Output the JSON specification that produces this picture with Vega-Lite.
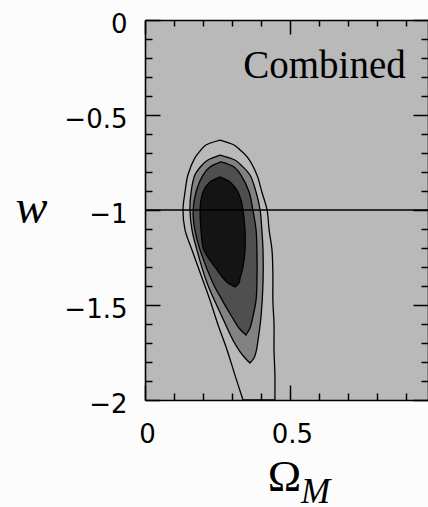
{
  "$schema": "https://vega.github.io/schema/vega-lite/v6.json",
  "width": 283,
  "height": 380,
  "autosize": "none",
  "padding": {"left": 145, "top": 20, "right": 0, "bottom": 107},
  "background": "#fcfcfc",
  "view": {"fill": "#b9b9b9", "stroke": null},
  "config": {
    "axis": {
      "domainColor": "black", "domainWidth": 1.6,
      "tickColor": "black", "tickWidth": 1.5,
      "labelFont": "DejaVu Sans", "labelFontSize": 26, "labelColor": "black",
      "grid": false, "labelFlush": false, "labelOverlap": false,
      "titleColor": "black", "titleFontWeight": "normal"
    }
  },
  "datasets": {
    "contours": [
      {"band": 1, "w": -0.632, "lo": 0.259, "hi": 0.259},
      {"band": 1, "w": -0.658, "lo": 0.210, "hi": 0.307},
      {"band": 1, "w": -0.684, "lo": 0.193, "hi": 0.328},
      {"band": 1, "w": -0.726, "lo": 0.172, "hi": 0.355},
      {"band": 1, "w": -0.816, "lo": 0.148, "hi": 0.386},
      {"band": 1, "w": -0.905, "lo": 0.138, "hi": 0.403},
      {"band": 1, "w": -1.0, "lo": 0.131, "hi": 0.421},
      {"band": 1, "w": -1.105, "lo": 0.138, "hi": 0.428},
      {"band": 1, "w": -1.211, "lo": 0.162, "hi": 0.438},
      {"band": 1, "w": -1.342, "lo": 0.193, "hi": 0.441},
      {"band": 1, "w": -1.474, "lo": 0.224, "hi": 0.441},
      {"band": 1, "w": -1.605, "lo": 0.252, "hi": 0.445},
      {"band": 1, "w": -1.737, "lo": 0.283, "hi": 0.445},
      {"band": 1, "w": -1.868, "lo": 0.310, "hi": 0.448},
      {"band": 1, "w": -2.0, "lo": 0.338, "hi": 0.448},
      {"band": 2, "w": -0.711, "lo": 0.259, "hi": 0.259},
      {"band": 2, "w": -0.737, "lo": 0.217, "hi": 0.310},
      {"band": 2, "w": -0.763, "lo": 0.197, "hi": 0.331},
      {"band": 2, "w": -0.816, "lo": 0.172, "hi": 0.362},
      {"band": 2, "w": -0.905, "lo": 0.159, "hi": 0.383},
      {"band": 2, "w": -1.0, "lo": 0.155, "hi": 0.397},
      {"band": 2, "w": -1.105, "lo": 0.162, "hi": 0.403},
      {"band": 2, "w": -1.211, "lo": 0.179, "hi": 0.407},
      {"band": 2, "w": -1.384, "lo": 0.214, "hi": 0.407},
      {"band": 2, "w": -1.563, "lo": 0.266, "hi": 0.400},
      {"band": 2, "w": -1.684, "lo": 0.303, "hi": 0.390},
      {"band": 2, "w": -1.747, "lo": 0.328, "hi": 0.383},
      {"band": 2, "w": -1.779, "lo": 0.345, "hi": 0.376},
      {"band": 2, "w": -1.805, "lo": 0.362, "hi": 0.362},
      {"band": 3, "w": -0.747, "lo": 0.262, "hi": 0.262},
      {"band": 3, "w": -0.774, "lo": 0.224, "hi": 0.307},
      {"band": 3, "w": -0.816, "lo": 0.200, "hi": 0.331},
      {"band": 3, "w": -0.905, "lo": 0.176, "hi": 0.359},
      {"band": 3, "w": -1.0, "lo": 0.166, "hi": 0.372},
      {"band": 3, "w": -1.105, "lo": 0.172, "hi": 0.383},
      {"band": 3, "w": -1.211, "lo": 0.190, "hi": 0.386},
      {"band": 3, "w": -1.384, "lo": 0.234, "hi": 0.386},
      {"band": 3, "w": -1.474, "lo": 0.266, "hi": 0.383},
      {"band": 3, "w": -1.563, "lo": 0.300, "hi": 0.372},
      {"band": 3, "w": -1.621, "lo": 0.324, "hi": 0.362},
      {"band": 3, "w": -1.658, "lo": 0.348, "hi": 0.348},
      {"band": 4, "w": -0.826, "lo": 0.259, "hi": 0.259},
      {"band": 4, "w": -0.853, "lo": 0.224, "hi": 0.293},
      {"band": 4, "w": -0.895, "lo": 0.203, "hi": 0.317},
      {"band": 4, "w": -0.947, "lo": 0.193, "hi": 0.331},
      {"band": 4, "w": -1.0, "lo": 0.190, "hi": 0.338},
      {"band": 4, "w": -1.105, "lo": 0.193, "hi": 0.345},
      {"band": 4, "w": -1.211, "lo": 0.203, "hi": 0.345},
      {"band": 4, "w": -1.300, "lo": 0.241, "hi": 0.338},
      {"band": 4, "w": -1.358, "lo": 0.269, "hi": 0.328},
      {"band": 4, "w": -1.384, "lo": 0.286, "hi": 0.324},
      {"band": 4, "w": -1.405, "lo": 0.310, "hi": 0.310}
    ],
    "ref": [{"w": -1}],
    "label": [{"om": 0.619, "w": -0.305, "text": "Combined"}]
  },
  "layer": [
    {
      "data": {"name": "contours"},
      "transform": [{"filter": "datum.band == 2"}],
      "mark": {"type": "area", "orient": "horizontal", "interpolate": "catmull-rom", "fill": "#828282", "stroke": "black", "strokeWidth": 1.3},
      "encoding": {
        "y": {"field": "w", "type": "quantitative", "scale": {"domain": [-2, 0], "nice": false, "zero": false},
          "axis": {
            "orient": "left", "values": [-2, -1.5, -1, -0.5, 0], "format": "~g",
            "tickSize": -15,
            "labelPadding": 33, "labelOffset": 4, "labelAlign": "right", "labelBaseline": "middle",
            "encode": {"labels": {"update": {"dx": {"signal": "datum.value == 0 || datum.value == -1 ? -9 : 0"}}}},
            "title": "w", "titleFont": "Liberation Serif", "titleFontStyle": "italic", "titleFontSize": 48,
            "titleAngle": 0, "titleX": -114, "titleY": 202, "titleAlign": "center", "titleBaseline": "alphabetic"
          }
        },
        "x": {"field": "lo", "type": "quantitative", "scale": {"domain": [0, 0.976], "nice": false, "zero": false},
          "axis": {
            "orient": "bottom", "values": [0, 0.5], "format": "~g",
            "tickSize": -15,
            "labelPadding": 36, "labelOffset": 2, "labelBaseline": "top", "labelAlign": "center",
            "title": "Ω", "titleFont": "Liberation Serif", "titleFontSize": 45,
            "titleX": 139, "titleY": 90, "titleAlign": "center", "titleBaseline": "alphabetic"
          }
        },
        "x2": {"field": "hi"}
      }
    },
    {
      "data": {"name": "contours"},
      "transform": [{"filter": "datum.band == 3"}],
      "mark": {"type": "area", "orient": "horizontal", "interpolate": "catmull-rom", "fill": "#4f4f4f", "stroke": "black", "strokeWidth": 1.3},
      "encoding": {
        "y": {"field": "w", "type": "quantitative", "scale": {"domain": [-2, 0], "nice": false, "zero": false},
          "axis": {"orient": "left", "values": [-1.9, -1.8, -1.7, -1.6, -1.4, -1.3, -1.2, -1.1, -0.9, -0.8, -0.7, -0.6, -0.4, -0.3, -0.2, -0.1],
            "tickSize": -7, "labels": false, "domain": false, "title": null}
        },
        "x": {"field": "lo", "type": "quantitative", "scale": {"domain": [0, 0.976], "nice": false, "zero": false},
          "axis": {"orient": "bottom", "values": [0.1, 0.2, 0.3, 0.4, 0.6, 0.7, 0.8, 0.9],
            "tickSize": -7, "labels": false, "domain": false, "title": null}
        },
        "x2": {"field": "hi"}
      }
    },
    {
      "data": {"name": "contours"},
      "transform": [{"filter": "datum.band == 4"}],
      "mark": {"type": "area", "orient": "horizontal", "interpolate": "catmull-rom", "fill": "#141414", "stroke": "black", "strokeWidth": 1.3},
      "encoding": {
        "y": {"field": "w", "type": "quantitative", "scale": {"domain": [-2, 0], "nice": false, "zero": false},
          "axis": {"orient": "right", "values": [-2, -1.5, -1, -0.5, 0], "tickSize": -15, "labels": false, "title": null}
        },
        "x": {"field": "lo", "type": "quantitative", "scale": {"domain": [0, 0.976], "nice": false, "zero": false},
          "axis": {"orient": "top", "values": [0, 0.5], "tickSize": -14, "labels": false,
            "title": "M", "titleFont": "Liberation Serif", "titleFontStyle": "italic", "titleFontSize": 35,
            "titleX": 170, "titleY": 482, "titleAlign": "center", "titleBaseline": "alphabetic"}
        },
        "x2": {"field": "hi"}
      }
    },
    {
      "data": {"name": "contours"},
      "transform": [{"filter": "datum.band == 1"}],
      "mark": {"type": "area", "orient": "horizontal", "interpolate": "catmull-rom", "fillOpacity": 0, "stroke": "black", "strokeWidth": 1.3},
      "encoding": {
        "y": {"field": "w", "type": "quantitative", "scale": {"domain": [-2, 0], "nice": false, "zero": false},
          "axis": {"orient": "right", "values": [-1.9, -1.8, -1.7, -1.6, -1.4, -1.3, -1.2, -1.1, -0.9, -0.8, -0.7, -0.6, -0.4, -0.3, -0.2, -0.1],
            "tickSize": -7, "labels": false, "domain": false, "title": null}
        },
        "x": {"field": "lo", "type": "quantitative", "scale": {"domain": [0, 0.976], "nice": false, "zero": false},
          "axis": {"orient": "top", "values": [0.1, 0.2, 0.3, 0.4, 0.6, 0.7, 0.8, 0.9],
            "tickSize": -6, "labels": false, "domain": false, "title": null}
        },
        "x2": {"field": "hi"}
      }
    },
    {
      "data": {"name": "ref"},
      "mark": {"type": "rule", "color": "black", "strokeWidth": 1.6},
      "encoding": {
        "y": {"field": "w", "type": "quantitative", "scale": {"domain": [-2, 0], "nice": false, "zero": false}, "axis": null}
      }
    },
    {
      "data": {"name": "label"},
      "mark": {"type": "text", "font": "Liberation Serif", "fontSize": 39, "align": "center", "baseline": "alphabetic", "color": "black"},
      "encoding": {
        "text": {"field": "text"},
        "y": {"field": "w", "type": "quantitative", "scale": {"domain": [-2, 0], "nice": false, "zero": false}, "axis": null},
        "x": {"field": "om", "type": "quantitative", "scale": {"domain": [0, 0.976], "nice": false, "zero": false}, "axis": null}
      }
    }
  ],
  "resolve": {"axis": {"x": "independent", "y": "independent"}}
}
